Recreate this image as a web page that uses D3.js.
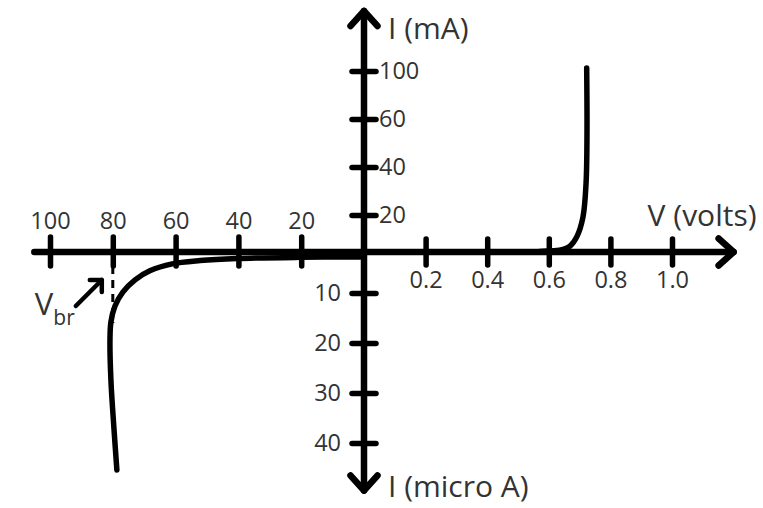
<!DOCTYPE html>
<html>
<head>
<meta charset="utf-8">
<script src="https://cdn.jsdelivr.net/npm/d3@7"></script>
<style>
body { margin: 0; background: #fff; }
svg { display: block; font-family: "Open Sans", sans-serif; }
</style>
</head>
<body>
<svg class="diode" width="763" height="508"></svg>
<script>
// tick values on the four half axes
const revVoltTicks = [100, 80, 60, 40, 20];       // reverse volts (left)
const fwdVoltTicks = [0.2, 0.4, 0.6, 0.8, 1.0];   // forward volts (right)
const fwdCurrentTicks = [20, 40, 60, 100];        // mA (up)
const revCurrentTicks = [10, 20, 30, 40];         // micro A (down)

// forward characteristic (V, mA)
const fwdVolts = [0.57, 0.646, 0.669, 0.692, 0.711, 0.721, 0.724, 0.723];
const fwdCurrent = [0.3, 1.4, 3.2, 8.6, 18.9, 33.3, 54.2, 102.5];

// reverse characteristic (|V|, micro A)
const revVolts = [1.3, 20.4, 40.4, 52.2, 61.1, 68.2, 72.9, 76.8, 79.3, 80.6, 80.9, 80.6, 79.6, 78.7];
const revCurrent = [1.2, 1.3, 1.6, 2.1, 2.9, 4.6, 6.8, 9.8, 12.6, 15.8, 19.4, 27.4, 37.4, 45.4];

const breakdownVolts = 80;

chart = {
    origin: {x: 364, y: 252},
    ink: "#000",
    textColor: "#333",
    //比例尺
    makeScales: function(){
        let o = chart.origin;
        chart.xFwd = d3.scaleLinear().domain([0, 1]).range([o.x, o.x + 308]);
        chart.xRev = d3.scaleLinear().domain([0, 100]).range([o.x, o.x - 314]);
        chart.yFwd = d3.scaleLinear()
            .domain([0].concat(fwdCurrentTicks))
            .range([o.y].concat(fwdCurrentTicks.map((d, i) => o.y - 37 - i * 48)));
        chart.yRev = d3.scaleLinear()
            .domain([0].concat(revCurrentTicks))
            .range([o.y].concat(revCurrentTicks.map((d, i) => o.y + 41 + i * 50)));
    },
    chevron: function(g, tip, dx, dy){
        // dx,dy: direction the arrow points
        let len = 15;
        let px = -dy, py = dx;
        let bx = tip[0] - dx * len, by = tip[1] - dy * len;
        g.append("path")
            .attr("d", "M" + (bx + px * len * 0.9) + "," + (by + py * len * 0.9) +
                "L" + tip[0] + "," + tip[1] +
                "L" + (bx - px * len * 0.9) + "," + (by - py * len * 0.9))
            .attr("fill", "none")
            .attr("stroke", chart.ink)
            .attr("stroke-width", 6.5)
            .attr("stroke-linecap", "round")
            .attr("stroke-linejoin", "round");
    },
    styleAxis: function(a){
        a.select(".domain").remove();
        a.selectAll(".tick line")
            .attr("stroke", chart.ink)
            .attr("stroke-width", 5.5)
            .attr("stroke-linecap", "round");
        a.selectAll(".tick text")
            .attr("fill", chart.textColor)
            .attr("font-size", 23.5)
            .attr("font-family", "'Open Sans', sans-serif");
    },
    //坐标轴
    drawAxis: function(svg){
        let o = chart.origin;
        let g = svg.append("g");
        let left = chart.xRev(105), right = chart.xFwd(1.2);
        let top = chart.yFwd(150), bottom = chart.yRev(49.5);
        g.append("line")
            .attr("x1", left).attr("y1", o.y).attr("x2", right).attr("y2", o.y)
            .attr("stroke", chart.ink).attr("stroke-width", 6.5).attr("stroke-linecap", "round");
        g.append("line")
            .attr("x1", o.x).attr("y1", top).attr("x2", o.x).attr("y2", bottom)
            .attr("stroke", chart.ink).attr("stroke-width", 6.5).attr("stroke-linecap", "round");
        chart.chevron(g, [right, o.y], 1, 0);
        chart.chevron(g, [o.x, top], 0, -1);
        chart.chevron(g, [o.x, bottom], 0, 1);

        let a1 = g.append("g")
            .attr("transform", "translate(0," + (o.y - 13) + ")")
            .call(d3.axisBottom(chart.xFwd).tickValues(fwdVoltTicks).tickSize(26).tickPadding(6).tickFormat(d3.format(".1f")));
        chart.styleAxis(a1);
        let a2 = g.append("g")
            .attr("transform", "translate(0," + (o.y + 14) + ")")
            .call(d3.axisTop(chart.xRev).tickValues(revVoltTicks).tickSize(29).tickPadding(8));
        chart.styleAxis(a2);
        let a3 = g.append("g")
            .attr("transform", "translate(" + (o.x - 12) + ",0)")
            .call(d3.axisRight(chart.yFwd).tickValues(fwdCurrentTicks).tickSize(24).tickPadding(3));
        chart.styleAxis(a3);
        let a4 = g.append("g")
            .attr("transform", "translate(" + (o.x + 12) + ",0)")
            .call(d3.axisLeft(chart.yRev).tickValues(revCurrentTicks).tickSize(24).tickPadding(11));
        chart.styleAxis(a4);

        // 轴标题
        let t = g.append("g")
            .attr("fill", chart.textColor)
            .attr("font-size", 30);
        t.append("text").attr("x", o.x + 24).attr("y", top + 28).text("I (mA)");
        t.append("text").attr("x", right + 23).attr("y", o.y - 26).attr("text-anchor", "end").text("V (volts)");
        t.append("text").attr("x", o.x + 24).attr("y", bottom + 6).text("I (micro A)");
    },
    //特性曲线
    drawCurves: function(svg){
        let fwd = fwdVolts.map((v, i) => ({v: v, i: fwdCurrent[i]}));
        let rev = revVolts.map((v, i) => ({v: v, i: revCurrent[i]}));
        let fwdLine = d3.line()
            .x(d => chart.xFwd(d.v))
            .y(d => chart.yFwd(d.i))
            .curve(d3.curveCatmullRom);
        let revLine = d3.line()
            .x(d => chart.xRev(d.v))
            .y(d => chart.yRev(d.i))
            .curve(d3.curveCatmullRom);
        svg.append("path")
            .attr("d", fwdLine(fwd))
            .attr("fill", "none")
            .attr("stroke", chart.ink)
            .attr("stroke-width", 5.5)
            .attr("stroke-linecap", "round");
        svg.append("path")
            .attr("d", revLine(rev))
            .attr("fill", "none")
            .attr("stroke", chart.ink)
            .attr("stroke-width", 5.5)
            .attr("stroke-linecap", "round");
    },
    //击穿电压标注
    drawBreakdown: function(svg){
        let o = chart.origin;
        let bx = chart.xRev(breakdownVolts);
        svg.append("line")
            .attr("x1", bx).attr("y1", o.y + 14)
            .attr("x2", bx).attr("y2", chart.yRev(16))
            .attr("stroke", chart.ink)
            .attr("stroke-width", 3)
            .attr("stroke-dasharray", "8,6");
        let tip = [bx - 11, o.y + 28];
        svg.append("line")
            .attr("x1", tip[0] - 26).attr("y1", tip[1] + 26)
            .attr("x2", tip[0]).attr("y2", tip[1])
            .attr("stroke", chart.ink)
            .attr("stroke-width", 4.5)
            .attr("stroke-linecap", "round");
        svg.append("path")
            .attr("d", "M" + (tip[0] - 12) + "," + tip[1] + "L" + tip[0] + "," + tip[1] + "L" + tip[0] + "," + (tip[1] + 12))
            .attr("fill", "none")
            .attr("stroke", chart.ink)
            .attr("stroke-width", 4.5)
            .attr("stroke-linecap", "round")
            .attr("stroke-linejoin", "round");
        let label = svg.append("text")
            .attr("x", bx - 78)
            .attr("y", o.y + 63)
            .attr("fill", chart.textColor)
            .attr("font-size", 31);
        label.append("tspan").text("V");
        label.append("tspan")
            .attr("dy", 10)
            .attr("font-size", 21)
            .text("br");
    },
    init: function(){
        let svg = d3.select(".diode");
        chart.makeScales();
        chart.drawCurves(svg);
        chart.drawAxis(svg);
        chart.drawBreakdown(svg);
    }
};
chart.init();
</script>
</body>
</html>
